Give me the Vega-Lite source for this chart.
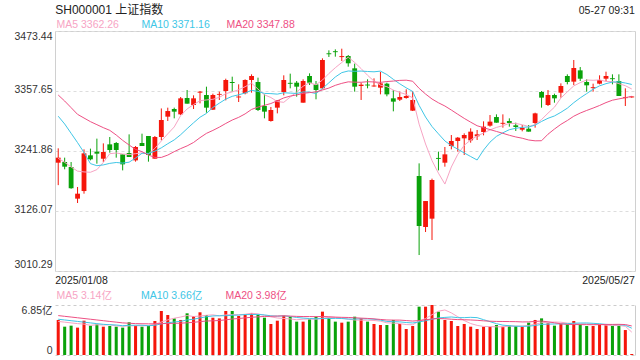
{
 "$schema": "https://vega.github.io/schema/vega-lite/v6.json",
 "padding": {"left": 13, "top": 2, "right": 4, "bottom": 0},
 "background": "white",
 "config": {
  "font": "Liberation Sans, Noto Sans CJK SC",
  "view": {"stroke": null},
  "axis": {"ticks": false, "domain": false, "grid": false, "title": null, "labelFontSize": 10.5, "labelColor": "#333333"},
  "legend": {"orient": "none", "direction": "horizontal", "columns": 3, "title": null, "symbolSize": 0, "symbolOpacity": 0, "symbolStrokeWidth": 0, "labelOffset": 0, "gridAlign": "all", "labelFontSize": 10.5, "padding": 0, "rowPadding": 0, "labelLimit": 0, "legendX": -9}
 },
 "data": {"values": [
{"d":"2025/01/08","o":3219.3,"h":3247.0,"l":3176.0,"c":3229.0,"v":4.80,"m5":3227.7,"m10":3309.0,"m20":3349.9,"vm5":4.60,"vm10":4.90,"vm20":5.40},
{"d":"2025/01/09","o":3220.6,"h":3229.0,"l":3206.5,"c":3211.6,"v":3.88,"m5":3220.0,"m10":3294.0,"m20":3338.3,"vm5":4.50,"vm10":4.80,"vm20":5.30},
{"d":"2025/01/10","o":3211.0,"h":3220.6,"l":3169.0,"c":3170.0,"v":4.02,"m5":3211.0,"m10":3276.0,"m20":3325.5,"vm5":4.40,"vm10":4.70,"vm20":5.20},
{"d":"2025/01/13","o":3149.9,"h":3172.4,"l":3141.5,"c":3159.5,"v":3.75,"m5":3203.0,"m10":3258.0,"m20":3312.6,"vm5":4.30,"vm10":4.60,"vm20":5.10},
{"d":"2025/01/14","o":3164.6,"h":3245.0,"l":3159.5,"c":3237.3,"v":4.70,"m5":3201.5,"m10":3239.0,"m20":3305.5,"vm5":4.23,"vm10":4.50,"vm20":5.00},
{"d":"2025/01/15","o":3233.5,"h":3246.4,"l":3223.8,"c":3225.8,"v":4.02,"m5":3200.8,"m10":3217.5,"m20":3298.5,"vm5":4.07,"vm10":4.40,"vm20":4.90},
{"d":"2025/01/16","o":3240.6,"h":3265.7,"l":3217.4,"c":3236.7,"v":4.20,"m5":3205.9,"m10":3213.5,"m20":3292.7,"vm5":4.14,"vm10":4.30,"vm20":4.80},
{"d":"2025/01/17","o":3227.0,"h":3256.6,"l":3220.6,"c":3239.9,"v":3.88,"m5":3219.8,"m10":3215.0,"m20":3286.9,"vm5":4.11,"vm10":4.20,"vm20":4.70},
{"d":"2025/01/20","o":3254.7,"h":3268.9,"l":3238.6,"c":3243.8,"v":3.97,"m5":3236.7,"m10":3218.0,"m20":3281.7,"vm5":4.15,"vm10":4.15,"vm20":4.60},
{"d":"2025/01/21","o":3257.3,"h":3259.2,"l":3229.0,"c":3243.8,"v":3.88,"m5":3238.0,"m10":3219.7,"m20":3272.7,"vm5":3.99,"vm10":4.11,"vm20":4.50},
{"d":"2025/01/22","o":3235.4,"h":3235.4,"l":3204.5,"c":3216.1,"v":3.75,"m5":3236.1,"m10":3218.5,"m20":3262.4,"vm5":3.94,"vm10":4.01,"vm20":4.40},
{"d":"2025/01/23","o":3238.0,"h":3274.0,"l":3230.3,"c":3230.3,"v":4.48,"m5":3234.8,"m10":3220.3,"m20":3253.4,"vm5":3.99,"vm10":4.07,"vm20":4.35},
{"d":"2025/01/24","o":3223.8,"h":3251.5,"l":3221.3,"c":3249.6,"v":4.02,"m5":3236.7,"m10":3228.3,"m20":3245.0,"vm5":4.02,"vm10":4.07,"vm20":4.30},
{"d":"2025/01/27","o":3257.3,"h":3275.3,"l":3251.5,"c":3251.5,"v":3.88,"m5":3238.3,"m10":3237.5,"m20":3240.6,"vm5":4.00,"vm10":4.08,"vm20":4.28},
{"d":"2025/02/05","o":3270.8,"h":3270.8,"l":3221.3,"c":3234.1,"v":4.02,"m5":3236.3,"m10":3237.2,"m20":3234.1,"vm5":4.03,"vm10":4.01,"vm20":4.27},
{"d":"2025/02/06","o":3227.0,"h":3270.8,"l":3227.0,"c":3268.9,"v":4.66,"m5":3246.9,"m10":3241.5,"m20":3229.5,"vm5":4.21,"vm10":4.07,"vm20":4.27},
{"d":"2025/02/07","o":3268.9,"h":3324.0,"l":3262.4,"c":3301.7,"v":6.03,"m5":3261.2,"m10":3248.0,"m20":3229.5,"vm5":4.52,"vm10":4.26,"vm20":4.30},
{"d":"2025/02/10","o":3308.1,"h":3325.5,"l":3299.8,"c":3319.0,"v":5.48,"m5":3275.0,"m10":3255.9,"m20":3234.0,"vm5":4.81,"vm10":4.42,"vm20":4.32},
{"d":"2025/02/11","o":3322.9,"h":3325.5,"l":3304.9,"c":3317.8,"v":5.02,"m5":3288.3,"m10":3263.3,"m20":3240.6,"vm5":5.04,"vm10":4.52,"vm20":4.34},
{"d":"2025/02/12","o":3312.6,"h":3346.1,"l":3311.3,"c":3343.5,"v":4.80,"m5":3310.2,"m10":3273.3,"m20":3246.5,"vm5":5.20,"vm10":4.61,"vm20":4.36},
{"d":"2025/02/13","o":3344.1,"h":3359.6,"l":3333.2,"c":3333.2,"v":5.71,"m5":3323.0,"m10":3285.0,"m20":3251.7,"vm5":5.41,"vm10":4.81,"vm20":4.41},
{"d":"2025/02/14","o":3330.6,"h":3349.3,"l":3322.9,"c":3343.5,"v":5.34,"m5":3331.4,"m10":3296.3,"m20":3258.3,"vm5":5.27,"vm10":4.90,"vm20":4.48},
{"d":"2025/02/17","o":3354.4,"h":3357.7,"l":3333.8,"c":3356.4,"v":5.85,"m5":3338.9,"m10":3307.0,"m20":3267.6,"vm5":5.34,"vm10":5.08,"vm20":4.57},
{"d":"2025/02/18","o":3349.9,"h":3366.0,"l":3315.8,"c":3325.5,"v":5.48,"m5":3340.4,"m10":3314.4,"m20":3275.9,"vm5":5.44,"vm10":5.24,"vm20":4.66},
{"d":"2025/02/19","o":3321.6,"h":3352.5,"l":3321.0,"c":3349.9,"v":5.11,"m5":3341.7,"m10":3325.9,"m20":3281.6,"vm5":5.50,"vm10":5.35,"vm20":4.68},
{"d":"2025/02/20","o":3350.4,"h":3356.4,"l":3340.3,"c":3352.0,"v":5.02,"m5":3345.4,"m10":3334.2,"m20":3287.9,"vm5":5.36,"vm10":5.38,"vm20":4.73},
{"d":"2025/02/21","o":3357.6,"h":3381.4,"l":3339.6,"c":3378.9,"v":6.03,"m5":3352.5,"m10":3342.0,"m20":3295.0,"vm5":5.50,"vm10":5.38,"vm20":4.82},
{"d":"2025/02/24","o":3375.0,"h":3385.3,"l":3356.4,"c":3373.1,"v":6.03,"m5":3355.9,"m10":3347.4,"m20":3301.6,"vm5":5.53,"vm10":5.44,"vm20":4.93},
{"d":"2025/02/25","o":3345.2,"h":3370.5,"l":3336.4,"c":3347.0,"v":5.34,"m5":3360.1,"m10":3350.3,"m20":3306.8,"vm5":5.51,"vm10":5.47,"vm20":5.00},
{"d":"2025/02/26","o":3353.2,"h":3380.2,"l":3351.2,"c":3378.9,"v":5.48,"m5":3365.9,"m10":3353.8,"m20":3313.5,"vm5":5.58,"vm10":5.54,"vm20":5.08},
{"d":"2025/02/27","o":3378.9,"h":3389.8,"l":3354.4,"c":3386.6,"v":5.71,"m5":3372.8,"m10":3359.1,"m20":3322.1,"vm5":5.72,"vm10":5.54,"vm20":5.17},
{"d":"2025/02/28","o":3375.0,"h":3383.4,"l":3319.0,"c":3321.0,"v":5.57,"m5":3361.3,"m10":3356.9,"m20":3326.6,"vm5":5.63,"vm10":5.56,"vm20":5.23},
{"d":"2025/03/03","o":3328.7,"h":3351.2,"l":3304.9,"c":3317.8,"v":5.11,"m5":3350.2,"m10":3353.0,"m20":3330.0,"vm5":5.44,"vm10":5.49,"vm20":5.28},
{"d":"2025/03/04","o":3299.8,"h":3326.8,"l":3298.5,"c":3321.0,"v":4.25,"m5":3345.1,"m10":3352.6,"m20":3333.5,"vm5":5.22,"vm10":5.37,"vm20":5.30},
{"d":"2025/03/05","o":3325.5,"h":3340.3,"l":3314.5,"c":3340.3,"v":4.70,"m5":3337.3,"m10":3351.6,"m20":3338.8,"vm5":5.07,"vm10":5.32,"vm20":5.34},
{"d":"2025/03/06","o":3355.7,"h":3387.9,"l":3349.3,"c":3378.9,"v":5.39,"m5":3335.8,"m10":3354.3,"m20":3344.3,"vm5":5.00,"vm10":5.36,"vm20":5.37},
{"d":"2025/03/07","o":3373.4,"h":3391.1,"l":3362.8,"c":3371.6,"v":5.25,"m5":3346.0,"m10":3353.6,"m20":3347.8,"vm5":4.94,"vm10":5.28,"vm20":5.33},
{"d":"2025/03/10","o":3373.7,"h":3376.9,"l":3346.7,"c":3366.0,"v":4.57,"m5":3355.6,"m10":3352.9,"m20":3350.1,"vm5":4.83,"vm10":5.14,"vm20":5.29},
{"d":"2025/03/11","o":3335.1,"h":3380.2,"l":3335.1,"c":3376.9,"v":4.57,"m5":3366.8,"m10":3355.9,"m20":3353.1,"vm5":4.90,"vm10":5.06,"vm20":5.27},
{"d":"2025/03/12","o":3386.6,"h":3391.7,"l":3369.2,"c":3373.7,"v":4.89,"m5":3373.5,"m10":3355.4,"m20":3354.6,"vm5":4.93,"vm10":5.00,"vm20":5.27},
{"d":"2025/03/13","o":3370.5,"h":3376.9,"l":3341.6,"c":3359.6,"v":5.25,"m5":3369.6,"m10":3352.7,"m20":3355.9,"vm5":4.91,"vm10":4.96,"vm20":5.25},
{"d":"2025/03/14","o":3362.8,"h":3420.7,"l":3360.9,"c":3417.5,"v":5.94,"m5":3378.7,"m10":3362.4,"m20":3359.6,"vm5":5.04,"vm10":4.99,"vm20":5.28},
{"d":"2025/03/17","o":3430.4,"h":3436.1,"l":3423.3,"c":3428.6,"v":5.11,"m5":3391.4,"m10":3373.5,"m20":3363.3,"vm5":5.15,"vm10":4.99,"vm20":5.24},
{"d":"2025/03/18","o":3434.4,"h":3438.0,"l":3423.9,"c":3432.6,"v":4.57,"m5":3402.6,"m10":3384.7,"m20":3368.6,"vm5":5.15,"vm10":5.02,"vm20":5.19},
{"d":"2025/03/19","o":3423.1,"h":3439.3,"l":3415.5,"c":3425.0,"v":4.43,"m5":3412.7,"m10":3393.1,"m20":3372.4,"vm5":5.06,"vm10":5.00,"vm20":5.16},
{"d":"2025/03/20","o":3425.2,"h":3427.1,"l":3404.6,"c":3411.1,"v":4.57,"m5":3423.0,"m10":3396.3,"m20":3375.3,"vm5":4.92,"vm10":4.92,"vm20":5.14},
{"d":"2025/03/21","o":3401.4,"h":3410.4,"l":3356.4,"c":3366.0,"v":5.25,"m5":3412.7,"m10":3395.7,"m20":3374.7,"vm5":4.79,"vm10":4.92,"vm20":5.10},
{"d":"2025/03/24","o":3367.3,"h":3373.7,"l":3340.3,"c":3369.9,"v":5.02,"m5":3400.9,"m10":3396.1,"m20":3374.5,"vm5":4.77,"vm10":4.96,"vm20":5.05},
{"d":"2025/03/25","o":3370.1,"h":3380.2,"l":3362.8,"c":3368.3,"v":4.57,"m5":3388.0,"m10":3395.3,"m20":3375.6,"vm5":4.77,"vm10":4.96,"vm20":5.01},
{"d":"2025/03/26","o":3366.4,"h":3382.1,"l":3366.0,"c":3368.2,"v":4.25,"m5":3376.7,"m10":3394.7,"m20":3375.1,"vm5":4.73,"vm10":4.90,"vm20":4.95},
{"d":"2025/03/27","o":3364.1,"h":3394.3,"l":3351.2,"c":3372.4,"v":4.11,"m5":3369.0,"m10":3396.0,"m20":3374.3,"vm5":4.64,"vm10":4.78,"vm20":4.87},
{"d":"2025/03/28","o":3371.8,"h":3373.7,"l":3347.4,"c":3351.2,"v":4.11,"m5":3366.0,"m10":3389.4,"m20":3375.9,"vm5":4.41,"vm10":4.60,"vm20":4.80},
{"d":"2025/03/31","o":3343.5,"h":3359.6,"l":3318.4,"c":3337.1,"v":4.80,"m5":3359.4,"m10":3380.2,"m20":3376.8,"vm5":4.37,"vm10":4.57,"vm20":4.78},
{"d":"2025/04/01","o":3340.9,"h":3356.4,"l":3338.3,"c":3346.1,"v":4.25,"m5":3354.9,"m10":3371.5,"m20":3378.1,"vm5":4.30,"vm10":4.54,"vm20":4.78},
{"d":"2025/04/02","o":3344.1,"h":3360.9,"l":3342.8,"c":3348.0,"v":3.56,"m5":3351.0,"m10":3363.8,"m20":3378.5,"vm5":4.17,"vm10":4.45,"vm20":4.72},
{"d":"2025/04/03","o":3319.7,"h":3357.6,"l":3319.0,"c":3340.3,"v":3.97,"m5":3344.5,"m10":3356.8,"m20":3376.5,"vm5":4.14,"vm10":4.39,"vm20":4.65},
{"d":"2025/04/07","o":3193.6,"h":3218.0,"l":3041.1,"c":3097.1,"v":6.62,"m5":3293.7,"m10":3329.9,"m20":3362.8,"vm5":4.64,"vm10":4.53,"vm20":4.72},
{"d":"2025/04/08","o":3095.2,"h":3145.3,"l":3085.5,"c":3145.3,"v":6.62,"m5":3255.4,"m10":3307.4,"m20":3351.8,"vm5":5.00,"vm10":4.69,"vm20":4.82},
{"d":"2025/04/09","o":3111.3,"h":3188.5,"l":3070.1,"c":3185.9,"v":6.85,"m5":3223.3,"m10":3289.1,"m20":3342.2,"vm5":5.52,"vm10":4.91,"vm20":4.94},
{"d":"2025/04/10","o":3228.5,"h":3240.6,"l":3204.5,"c":3226.7,"v":5.94,"m5":3199.1,"m10":3275.0,"m20":3334.9,"vm5":6.00,"vm10":5.08,"vm20":4.99},
{"d":"2025/04/11","o":3219.3,"h":3249.6,"l":3211.6,"c":3235.4,"v":4.80,"m5":3178.1,"m10":3261.3,"m20":3328.7,"vm5":6.17,"vm10":5.15,"vm20":4.97},
{"d":"2025/04/14","o":3251.5,"h":3272.7,"l":3245.0,"c":3261.2,"v":4.66,"m5":3211.0,"m10":3252.3,"m20":3320.9,"vm5":5.77,"vm10":5.21,"vm20":4.90},
{"d":"2025/04/15","o":3261.2,"h":3268.9,"l":3240.6,"c":3267.6,"v":3.97,"m5":3235.4,"m10":3245.4,"m20":3312.8,"vm5":5.24,"vm10":5.12,"vm20":4.85},
{"d":"2025/04/16","o":3266.3,"h":3275.9,"l":3234.1,"c":3272.7,"v":4.25,"m5":3252.8,"m10":3238.1,"m20":3304.8,"vm5":4.72,"vm10":5.12,"vm20":4.83},
{"d":"2025/04/17","o":3262.4,"h":3285.6,"l":3257.9,"c":3279.2,"v":3.88,"m5":3263.2,"m10":3231.2,"m20":3297.5,"vm5":4.31,"vm10":5.16,"vm20":4.80},
{"d":"2025/04/18","o":3270.2,"h":3282.4,"l":3263.1,"c":3274.0,"v":3.56,"m5":3270.9,"m10":3224.5,"m20":3290.6,"vm5":4.06,"vm10":5.12,"vm20":4.75},
{"d":"2025/04/21","o":3278.5,"h":3299.1,"l":3272.1,"c":3288.8,"v":3.88,"m5":3276.5,"m10":3243.7,"m20":3286.8,"vm5":3.91,"vm10":4.84,"vm20":4.68},
{"d":"2025/04/22","o":3290.7,"h":3311.3,"l":3288.8,"c":3298.5,"v":3.88,"m5":3282.6,"m10":3259.0,"m20":3283.2,"vm5":3.89,"vm10":4.57,"vm20":4.63},
{"d":"2025/04/23","o":3307.4,"h":3312.6,"l":3296.5,"c":3296.5,"v":4.11,"m5":3287.4,"m10":3270.1,"m20":3279.6,"vm5":3.86,"vm10":4.29,"vm20":4.60},
{"d":"2025/04/24","o":3294.4,"h":3312.6,"l":3286.9,"c":3296.2,"v":3.88,"m5":3290.7,"m10":3277.0,"m20":3276.0,"vm5":3.86,"vm10":4.09,"vm20":4.59},
{"d":"2025/04/25","o":3299.8,"h":3304.9,"l":3288.8,"c":3295.9,"v":4.02,"m5":3295.1,"m10":3283.0,"m20":3272.2,"vm5":3.95,"vm10":4.01,"vm20":4.58},
{"d":"2025/04/28","o":3291.4,"h":3296.5,"l":3280.5,"c":3288.2,"v":3.97,"m5":3295.0,"m10":3285.7,"m20":3269.0,"vm5":3.97,"vm10":3.94,"vm20":4.57},
{"d":"2025/04/29","o":3283.0,"h":3292.0,"l":3279.8,"c":3286.2,"v":3.88,"m5":3292.5,"m10":3287.6,"m20":3266.5,"vm5":3.97,"vm10":3.93,"vm20":4.53},
{"d":"2025/04/30","o":3284.9,"h":3292.0,"l":3279.2,"c":3279.2,"v":4.43,"m5":3289.1,"m10":3288.2,"m20":3263.1,"vm5":4.04,"vm10":3.95,"vm20":4.54},
{"d":"2025/05/06","o":3295.9,"h":3315.8,"l":3286.9,"c":3314.5,"v":4.80,"m5":3292.8,"m10":3291.8,"m20":3261.5,"vm5":4.22,"vm10":4.04,"vm20":4.60},
{"d":"2025/05/07","o":3355.7,"h":3357.6,"l":3325.5,"c":3344.8,"v":5.02,"m5":3302.6,"m10":3298.9,"m20":3261.7,"vm5":4.42,"vm10":4.19,"vm20":4.65},
{"d":"2025/05/08","o":3330.6,"h":3359.6,"l":3328.7,"c":3349.9,"v":4.34,"m5":3314.9,"m10":3305.0,"m20":3274.3,"vm5":4.49,"vm10":4.23,"vm20":4.54},
{"d":"2025/05/09","o":3349.9,"h":3352.5,"l":3335.1,"c":3343.5,"v":4.02,"m5":3326.4,"m10":3309.5,"m20":3284.2,"vm5":4.52,"vm10":4.25,"vm20":4.41},
{"d":"2025/05/12","o":3354.4,"h":3372.4,"l":3344.8,"c":3367.3,"v":4.25,"m5":3344.0,"m10":3316.5,"m20":3293.3,"vm5":4.49,"vm10":4.26,"vm20":4.28},
{"d":"2025/05/13","o":3386.6,"h":3389.8,"l":3370.5,"c":3375.0,"v":4.20,"m5":3356.1,"m10":3324.5,"m20":3300.7,"vm5":4.37,"vm10":4.29,"vm20":4.19},
{"d":"2025/05/14","o":3375.7,"h":3417.5,"l":3369.2,"c":3402.0,"v":4.66,"m5":3367.5,"m10":3335.1,"m20":3309.0,"vm5":4.29,"vm10":4.36,"vm20":4.18},
{"d":"2025/05/15","o":3397.5,"h":3403.9,"l":3376.9,"c":3381.4,"v":4.20,"m5":3373.8,"m10":3344.4,"m20":3315.1,"vm5":4.27,"vm10":4.38,"vm20":4.16},
{"d":"2025/05/16","o":3375.0,"h":3380.2,"l":3356.4,"c":3368.6,"v":3.97,"m5":3378.9,"m10":3352.6,"m20":3320.1,"vm5":4.26,"vm10":4.39,"vm20":4.16},
{"d":"2025/05/19","o":3363.2,"h":3371.8,"l":3356.4,"c":3365.0,"v":3.97,"m5":3378.3,"m10":3361.2,"m20":3324.7,"vm5":4.20,"vm10":4.34,"vm20":4.15},
{"d":"2025/05/20","o":3371.8,"h":3387.9,"l":3370.5,"c":3378.9,"v":4.20,"m5":3379.1,"m10":3367.6,"m20":3329.7,"vm5":4.20,"vm10":4.28,"vm20":4.16},
{"d":"2025/05/21","o":3381.4,"h":3394.9,"l":3376.9,"c":3386.6,"v":4.11,"m5":3376.0,"m10":3371.8,"m20":3335.3,"vm5":4.09,"vm10":4.19,"vm20":4.19},
{"d":"2025/05/22","o":3382.3,"h":3389.8,"l":3370.5,"c":3380.5,"v":3.97,"m5":3375.9,"m10":3374.9,"m20":3339.9,"vm5":4.04,"vm10":4.16,"vm20":4.19},
{"d":"2025/05/23","o":3376.9,"h":3389.8,"l":3348.0,"c":3348.0,"v":4.02,"m5":3371.8,"m10":3375.3,"m20":3342.4,"vm5":4.05,"vm10":4.16,"vm20":4.20},
{"d":"2025/05/26","o":3343.9,"h":3362.8,"l":3328.7,"c":3345.7,"v":3.42,"m5":3367.9,"m10":3373.1,"m20":3344.8,"vm5":3.94,"vm10":4.07,"vm20":4.17},
{"d":"2025/05/27","o":3345.3,"h":3347.9,"l":3344.6,"c":3347.1,"v":0.14,"m5":3361.5,"m10":3370.3,"m20":3347.4,"vm5":3.13,"vm10":3.67,"vm20":3.98}
 ]},
 "spacing": 4,
 "resolve": {"scale": {"color": "independent"}, "legend": {"color": "independent"}},
 "vconcat": [
  {
   "width": 580, "height": 240,
   "view": {"stroke": "#d0d0d0"},
   "layer": [
    {
     "mark": {"type": "rule", "strokeWidth": 1},
     "encoding": {
      "x": {"field": "d", "type": "ordinal", "sort": null, "scale": {"paddingInner": 0, "paddingOuter": 0},
            "axis": {"orient": "bottom", "values": ["2025/01/08", "2025/05/27"], "labelAngle": 0, "labelFlush": 8, "labelFlushOffset": 3, "labelPadding": 4, "labelColor": "#222222"}},
      "y": {"field": "l", "type": "quantitative", "scale": {"domain": [3010.29, 3473.44], "zero": false, "nice": false},
            "axis": {"orient": "left", "values": [3010.29, 3126.07, 3241.86, 3357.65, 3473.44], "labelExpr": "format(datum.value, '.2f')", "labelFlush": true, "labelPadding": 3, "labelOffset": {"condition": {"test": "datum.value > 3400", "value": 0}, "value": -2}, "minExtent": 41, "maxExtent": 41, "grid": true, "gridDash": [3, 3], "gridColor": "#dddddd"}},
      "y2": {"field": "h"},
      "color": {"condition": {"test": "datum.c >= datum.o", "value": "#f5160b"}, "value": "#0aa20a"}
     }
    },
    {
     "mark": {"type": "bar", "width": {"band": 0.75}},
     "encoding": {
      "x": {"field": "d", "type": "ordinal", "sort": null, "axis": null},
      "y": {"field": "o", "type": "quantitative", "scale": {"domain": [3010.29, 3473.44], "zero": false, "nice": false}, "axis": null},
      "y2": {"field": "c"},
      "color": {"condition": {"test": "datum.c >= datum.o", "value": "#f5160b"}, "value": "#0aa20a"}
     }
    },
    {
     "transform": [{"fold": ["m5", "m10", "m20"], "as": ["k", "val"]}],
     "mark": {"type": "line", "strokeWidth": 1},
     "encoding": {
      "x": {"field": "d", "type": "ordinal", "sort": null, "axis": null},
      "y": {"field": "val", "type": "quantitative", "scale": {"domain": [3010.29, 3473.44], "zero": false, "nice": false}, "axis": null},
      "color": {"field": "k", "type": "nominal", "scale": {"domain": ["m5", "m10", "m20"], "range": ["#f7a4c4", "#40c6e6", "#ee5084"]},
        "legend": {"legendY": -11, "columnPadding": 6, "labelExpr": "datum.value == 'm5' ? 'MA5 3362.26' : datum.value == 'm10' ? 'MA10 3371.16' : 'MA20 3347.88'", "labelColor": {"expr": "datum.value == 'm5' ? '#f7a4c4' : datum.value == 'm10' ? '#40c6e6' : '#ee5084'"}}}
     }
    },
    {
     "mark": {"type": "rule", "opacity": 0},
     "encoding": {
      "x": {"field": "d", "type": "ordinal", "sort": null,
            "axis": {"orient": "top", "values": ["2025/01/08", "2025/05/27"], "labelExpr": "datum.value == '2025/01/08' ? 'SH000001 上证指数' : '05-27 09:31'", "labelAngle": 0, "labelFlush": 8, "labelFlushOffset": 3, "offset": 13, "labelBaseline": "alphabetic", "labelPadding": {"condition": {"test": "datum.value == '2025/01/08'", "value": 5}, "value": 5}, "labelFontSize": {"condition": {"test": "datum.value == '2025/01/08'", "value": 12}, "value": 10.5}, "labelColor": "#222222"}}
     }
    },
    {
     "mark": {"type": "rule", "opacity": 0},
     "encoding": {
      "y": {"field": "c", "type": "quantitative", "scale": {"domain": [3010.29, 3473.44], "zero": false, "nice": false},
            "axis": {"orient": "right", "domain": false, "labels": false, "grid": false, "ticks": false}}
     }
    }
   ]
  },
  {
   "width": 580, "height": 50,
   "layer": [
    {
     "mark": {"type": "bar", "width": {"band": 0.47}},
     "encoding": {
      "x": {"field": "d", "type": "ordinal", "sort": null, "scale": {"paddingInner": 0, "paddingOuter": 0},
            "axis": {"orient": "bottom", "values": ["2025/02/27", "2025/04/11"], "bandPosition": 0, "labels": false, "grid": true, "gridDash": [2, 2], "gridColor": "#cccccc"}},
      "y": {"field": "v", "type": "quantitative", "scale": {"domain": [0, 6.85], "nice": false},
            "axis": {"orient": "left", "values": [0, 6.85], "labelExpr": "datum.value == 0 ? '0' : '6.85亿'", "labelFlush": true, "labelPadding": 3, "minExtent": 41, "maxExtent": 41, "grid": true, "gridDash": [3, 3], "gridColor": "#cccccc"}},
      "color": {"condition": {"test": "datum.c >= datum.o", "value": "#f5160b"}, "value": "#0aa20a"}
     }
    },
    {
     "transform": [{"fold": ["vm5", "vm10", "vm20"], "as": ["k", "val"]}],
     "mark": {"type": "line", "strokeWidth": 1},
     "encoding": {
      "x": {"field": "d", "type": "ordinal", "sort": null, "axis": null},
      "y": {"field": "val", "type": "quantitative", "scale": {"domain": [0, 6.85], "nice": false}, "axis": null},
      "color": {"field": "k", "type": "nominal", "scale": {"domain": ["vm5", "vm10", "vm20"], "range": ["#f7a4c4", "#40c6e6", "#ee5084"]},
        "legend": {"legendY": -14.5, "columnPadding": 12.5, "labelExpr": "datum.value == 'vm5' ? 'MA5 3.14亿' : datum.value == 'vm10' ? 'MA10 3.66亿' : 'MA20 3.98亿'", "labelColor": {"expr": "datum.value == 'vm5' ? '#f7a4c4' : datum.value == 'vm10' ? '#40c6e6' : '#ee5084'"}}}
     }
    },
    {
     "mark": {"type": "rule", "opacity": 0},
     "encoding": {
      "y": {"field": "v", "type": "quantitative", "scale": {"domain": [0, 6.85], "nice": false},
            "axis": {"orient": "right", "domain": true, "domainColor": "#cccccc", "labels": false, "grid": false, "ticks": false}}
     }
    }
   ]
  }
 ]
}
